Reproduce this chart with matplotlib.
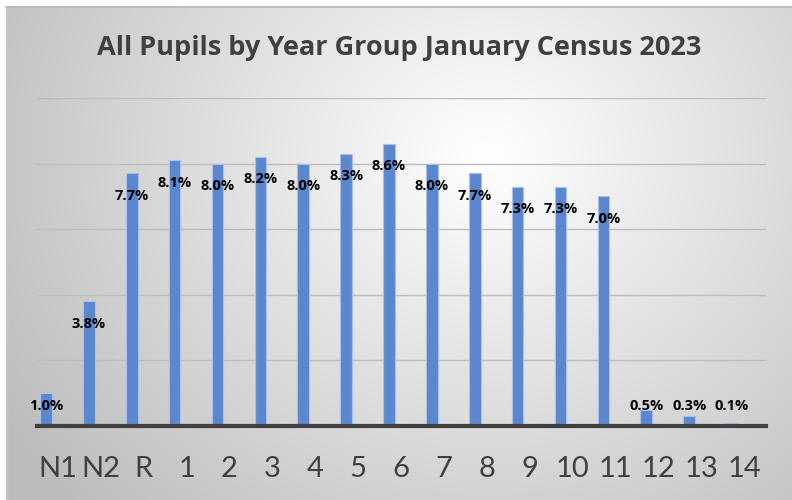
import numpy as np
import matplotlib
matplotlib.use("Agg")
import matplotlib.pyplot as plt
from matplotlib.transforms import ScaledTranslation

categories = ["N1", "N2", "R", "1", "2", "3", "4", "5", "6", "7", "8", "9", "10", "11", "12", "13", "14"]
values = [1.0, 3.8, 7.7, 8.1, 8.0, 8.2, 8.0, 8.3, 8.6, 8.0, 7.7, 7.3, 7.3, 7.0, 0.5, 0.3, 0.1]
value_labels = ["1.0%", "3.8%", "7.7%", "8.1%", "8.0%", "8.2%", "8.0%", "8.3%", "8.6%",
                "8.0%", "7.7%", "7.3%", "7.3%", "7.0%", "0.5%", "0.3%", "0.1%"]
title = "All Pupils by Year Group January Census 2023"

W, H = 792, 500
fig = plt.figure(figsize=(W / 100, H / 100), dpi=100)
fig.patch.set_facecolor("white")

# background radial gradient panel
bg = fig.add_axes([6 / W, 0, 1 - 6 / W, 1 - 6 / H])
yy, xx = np.mgrid[0:H - 6, 0:W - 6]
cx, cy = 480, 150
r = np.sqrt((xx - cx) ** 2 + ((yy - cy) * 1.1) ** 2)
t = np.clip(r / 560, 0, 1)
g = 1.0 - 0.26 * t
img = np.dstack([g, g, g])
bg.imshow(img, aspect="auto", interpolation="bilinear")
bg.set_axis_off()
fig.add_artist(plt.Line2D([6 / W, 1], [1 - 6.5 / H, 1 - 6.5 / H], color="#b8b8b8", lw=1.2))
fig.add_artist(plt.Line2D([6.5 / W, 6.5 / W], [0, 1 - 6.5 / H], color="#c8c8c8", lw=1.0))

n = len(categories)
x = np.arange(n)
step = (732 - 46) / (n - 1)
ax = fig.add_axes([37 / W, (H - 426) / H, (766 - 37) / W, (426 - 98) / H])
ax.patch.set_alpha(0)
ax.bar(x, values, width=0.27, color="#5B87CF", edgecolor="#A9C0E8", linewidth=0.8, zorder=3)
ax.set_xlim(-9 / step, (766 - 46) / step)
ax.set_ylim(0, 10)
ax.set_yticks([2, 4, 6, 8, 10])
ax.yaxis.grid(True, color="#bdbdbd", lw=1.0, zorder=0)
ax.tick_params(axis="y", left=False, labelleft=False)
for s in ["top", "right", "left"]:
    ax.spines[s].set_visible(False)
ax.spines["bottom"].set_color("#404040")
ax.spines["bottom"].set_linewidth(3)
ax.spines["bottom"].set_zorder(4)
ax.set_xticks(x)
ax.set_xticklabels(categories, fontsize=21, color="#404040", fontfamily="Lato")
ax.tick_params(axis="x", bottom=False, pad=18)
off = ScaledTranslation(12 / 100, 0, fig.dpi_scale_trans)
for lab in ax.get_xticklabels():
    lab.set_transform(lab.get_transform() + off)

for xi, v, lbl in zip(x, values, value_labels):
    ly = max(v - 0.68, 0.61)
    ax.text(xi, ly, lbl, ha="center", va="center", fontsize=10.5, fontweight="bold",
            color="black", fontfamily="Open Sans", zorder=5)

fig.text(399 / W, 1 - 48 / H, title, ha="center", va="center", fontsize=19.5,
         fontweight="bold", color="#404040", fontfamily="Open Sans")

fig.savefig("out.png", dpi=100)
